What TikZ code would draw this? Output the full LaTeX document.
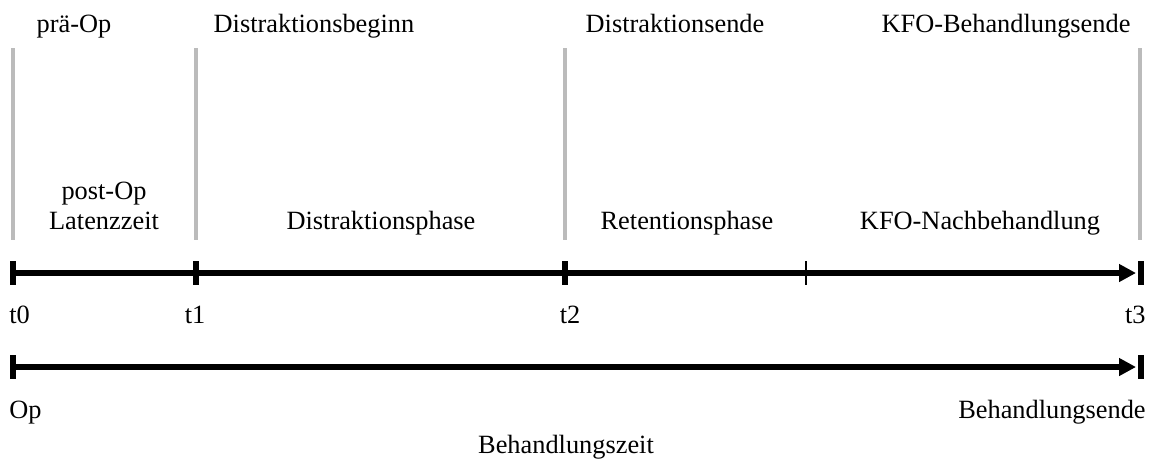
\documentclass[tikz,border=0pt]{standalone}
\usepackage{fontspec}
\setmainfont{Liberation Serif}
\usetikzlibrary{arrows.meta,positioning}
\definecolor{bargray}{HTML}{BBBBBB}
\tikzset{
  timeline/.style={line width=3.3pt, -{Triangle[length=0.34cm,width=0.34cm]}},
  tickbar/.style={line width=3.2pt},
  thintick/.style={line width=1.1pt},
  phasebar/.style={line width=2.8pt, color=bargray},
  textlabel/.style={inner sep=0pt, anchor=base, font=\fontsize{15}{18}\selectfont},
}

\begin{document}
\begin{tikzpicture}[x=0.02cm, y=-0.02cm]
  \useasboundingbox (0,0) rectangle (1151,464);

  % time points on the upper axis
  \coordinate (t0) at (13,273);
  \coordinate (t1) at (196,273);
  \coordinate (t2) at (565,273);
  \coordinate (tm) at (806,273);
  \coordinate (tend) at (1136,273);
  \coordinate (t3) at (1141,273);

  % grey phase borders
  \foreach \px in {13,196,565,1140}
    \draw[phasebar] (\px,48) -- (\px,240);

  % events
  \node[textlabel] (praeop) at (74,32) {prä-Op};
  \node[textlabel] (dbeginn) at (314,32) {Distraktionsbeginn};
  \node[textlabel] (dende) at (675,32) {Distraktionsende};
  \node[textlabel] (kfoende) at (1006,32) {KFO-Behandlungsende};

  % phases
  \node[textlabel] (postop) at (104,199) {post-Op};
  \node[textlabel] (latenz) at (104,229) {Latenzzeit};
  \node[textlabel] (dphase) at (381,229) {Distraktionsphase};
  \node[textlabel] (rphase) at (687,229) {Retentionsphase};
  \node[textlabel] (nachbeh) at (980,229) {KFO-Nachbehandlung};

  % upper axis
  \draw[timeline] (t0) -- (tend);
  \foreach \c in {t0,t1,t2,t3}
    \draw[tickbar] ([yshift=0.24cm]\c) -- ([yshift=-0.24cm]\c);
  \draw[thintick] ([yshift=0.24cm]tm) -- ([yshift=-0.24cm]tm);

  \node[textlabel, anchor=base west] (lt0) at (9,323) {t0};
  \node[textlabel] (lt1) at (195,323) {t1};
  \node[textlabel] (lt2) at (570,323) {t2};
  \node[textlabel, anchor=base east] (lt3) at (1146,323) {t3};

  % lower axis
  \coordinate (op) at (13,367);
  \coordinate (ziel) at (1136,367);
  \coordinate (ende) at (1141,367);
  \draw[timeline] (op) -- (ziel);
  \draw[tickbar] ([yshift=0.24cm]op) -- ([yshift=-0.24cm]op);
  \draw[tickbar] ([yshift=0.24cm]ende) -- ([yshift=-0.24cm]ende);

  \node[textlabel, anchor=base west] (lop) at (9,418) {Op};
  \node[textlabel, anchor=base east] (lende) at (1146,418) {Behandlungsende};
  \node[textlabel] (bzeit) at (566,453) {Behandlungszeit};
\end{tikzpicture}
\end{document}
